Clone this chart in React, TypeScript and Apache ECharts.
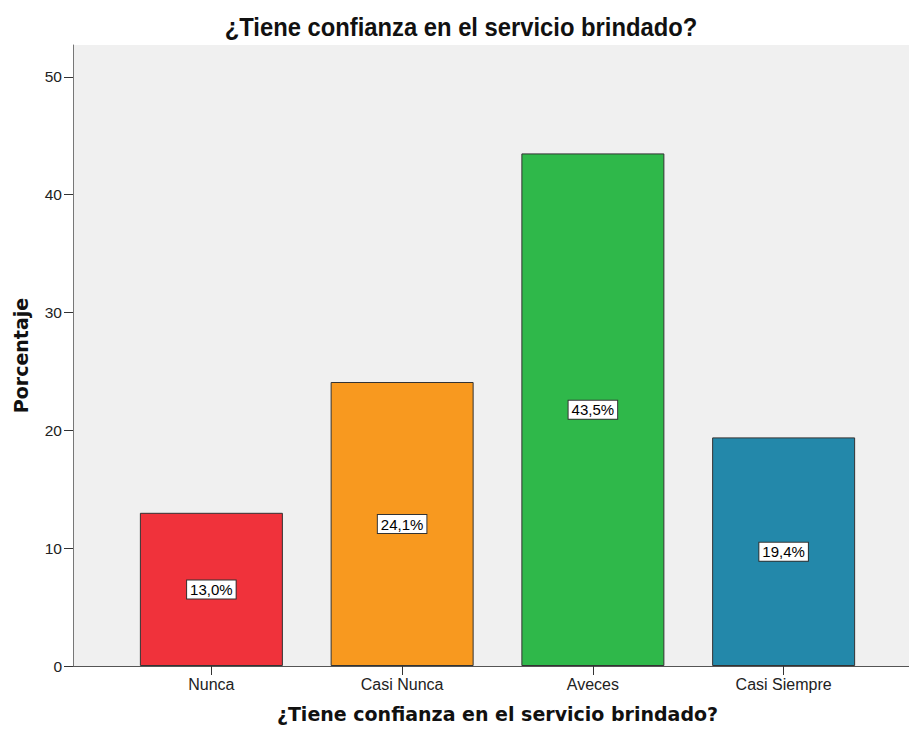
import React, { useEffect, useRef } from "react";
import * as echarts from "echarts";

const categories = ["Nunca", "Casi Nunca", "Aveces", "Casi Siempre"];
const values = [13.0, 24.1, 43.5, 19.4];
const colors = ["#f0323b", "#f8991f", "#2fb84a", "#2388aa"];
const yTicks = [0, 10, 20, 30, 40, 50];
const yMax = 52.7;
const titleText = "¿Tiene confianza en el servicio brindado?";
const yName = "Porcentaje";

export default function App() {
  const ref = useRef<HTMLDivElement>(null);
  useEffect(() => {
    if (!ref.current) return;
    const chart = echarts.init(ref.current, undefined, { renderer: "svg" });
    const font = "'Liberation Sans', Arial, sans-serif";
    chart.setOption({
      animation: false,
      backgroundColor: "#ffffff",
      graphic: [
        {
          type: "text",
          x: 461,
          y: 27,
          scaleX: 0.915,
          style: {
            text: titleText,
            textAlign: "center",
            textVerticalAlign: "middle",
            fontFamily: font,
            fontWeight: "bold",
            fontSize: 26,
            fill: "#111",
          },
        },
      ],
      grid: [
        { left: 73, right: 0, top: 45, bottom: 63, show: true, backgroundColor: "#f0f0f0", borderWidth: 0, outerBoundsMode: "none", containLabel: false },
        { left: 116, width: 763, top: 45, bottom: 63, show: false, outerBoundsMode: "none", containLabel: false },
      ],
      xAxis: [
        {
          type: "value",
          gridIndex: 0,
          min: 0,
          max: 1,
          axisLine: { show: true, onZero: false, lineStyle: { color: "#555", width: 1 } },
          axisTick: { show: false },
          axisLabel: { show: false },
          splitLine: { show: false },
        },
        {
          type: "category",
          gridIndex: 1,
          data: categories,
          axisLine: { show: false },
          axisTick: { show: true, alignWithLabel: true, length: 9, lineStyle: { color: "#333" } },
          axisLabel: { fontFamily: font, fontSize: 16, color: "#222", margin: 10 },
          name: titleText,
          nameLocation: "middle",
          nameGap: 38,
          nameTextStyle: { fontFamily: "'DejaVu Sans', sans-serif", fontWeight: "bold", fontSize: 19, color: "#111" },
        },
      ],
      yAxis: [
        {
          type: "value",
          gridIndex: 0,
          min: 0,
          max: yMax,
          axisLine: { show: true, lineStyle: { color: "#777", width: 1 } },
          axisTick: { show: true, inside: false, length: 9, customValues: yTicks, lineStyle: { color: "#333" } },
          axisLabel: { fontFamily: font, fontSize: 15.5, color: "#222", margin: 11, customValues: yTicks },
          splitLine: { show: false },
          name: yName,
          nameLocation: "middle",
          nameGap: 43,
          nameTextStyle: { fontFamily: "'DejaVu Sans', sans-serif", fontWeight: "bold", fontSize: 19, color: "#111" },
        },
        { type: "value", gridIndex: 1, min: 0, max: yMax, show: false },
      ],
      series: [
        {
          type: "bar",
          xAxisIndex: 1,
          yAxisIndex: 1,
          barWidth: 143,
          data: values.map((v, i) => ({
            value: v,
            itemStyle: { color: colors[i], borderColor: "#333", borderWidth: 1 },
          })),
          label: {
            show: true,
            position: "inside",
            formatter: (p: any) => p.value.toFixed(1).replace(".", ",") + "%",
            fontFamily: font,
            fontSize: 15,
            color: "#000",
            backgroundColor: "#fff",
            borderColor: "#333",
            borderWidth: 1,
            padding: [2, 3, 1, 3],
          },
        },
      ],
    });
    return () => chart.dispose();
  }, []);
  return <div ref={ref} style={{ width: 909, height: 729, position: "absolute", left: 0, top: 0 }} />;
}
